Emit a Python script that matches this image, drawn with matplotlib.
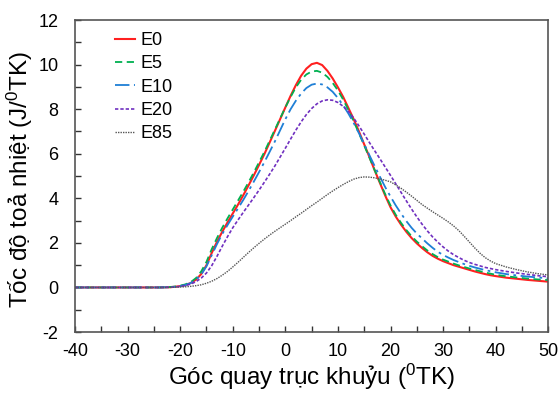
import matplotlib
matplotlib.use("Agg")
import matplotlib.pyplot as plt
from matplotlib.ticker import MultipleLocator

plt.rcParams['font.family'] = ['Liberation Sans', 'DejaVu Sans']
plt.rcParams['mathtext.default'] = 'regular'
plt.rcParams['axes.unicode_minus'] = False

# crank angle (deg) and heat release rate (J/deg) for each fuel blend
angle = [-40, -30, -24] + list(range(-22, 41)) + [42, 44, 46, 48, 50]

e0 = [0, 0, 0,
      0.01, 0.03, 0.06, 0.11, 0.2, 0.35, 0.6, 1.0, 1.55, 2.05, 2.5, 2.92, 3.32, 3.72, 4.14, 4.58, 5.03, 5.5, 5.98, 6.5, 7.02, 7.55,
      8.08, 8.6, 9.08, 9.5, 9.82, 10.02, 10.08, 9.98, 9.72, 9.38,
      8.98, 8.55, 8.05, 7.55, 7.0, 6.42, 5.85, 5.25, 4.68, 4.12,
      3.6, 3.18, 2.82, 2.5, 2.22, 1.98, 1.77, 1.58, 1.42, 1.29,
      1.18, 1.09, 1.0, 0.93, 0.86, 0.79, 0.72, 0.66, 0.6, 0.55, 0.51,
      0.44, 0.39, 0.34, 0.3, 0.26]
e5 = [0, 0, 0,
      0.02, 0.04, 0.08, 0.14, 0.24, 0.42, 0.72, 1.15, 1.72, 2.22, 2.68, 3.1, 3.5, 3.9, 4.3, 4.72, 5.16, 5.62, 6.08, 6.58, 7.08, 7.58,
      8.08, 8.55, 8.98, 9.32, 9.56, 9.69, 9.72, 9.64, 9.45, 9.18,
      8.84, 8.43, 7.96, 7.45, 6.92, 6.37, 5.82, 5.26, 4.72, 4.18,
      3.68, 3.26, 2.9, 2.58, 2.3, 2.06, 1.85, 1.66, 1.5, 1.36,
      1.25, 1.16, 1.07, 0.99, 0.92, 0.85, 0.79, 0.73, 0.67, 0.62, 0.57,
      0.5, 0.45, 0.4, 0.36, 0.33]
e10 = [0, 0, 0,
       0.01, 0.03, 0.06, 0.11, 0.2, 0.35, 0.58, 0.95, 1.45, 1.95, 2.4, 2.8, 3.18, 3.55, 3.93, 4.33, 4.75, 5.18, 5.62, 6.08, 6.55, 7.05,
       7.55, 8.0, 8.38, 8.7, 8.95, 9.1, 9.15, 9.11, 8.98, 8.78,
       8.5, 8.17, 7.8, 7.38, 6.92, 6.43, 5.93, 5.44, 4.96, 4.5,
       4.08, 3.68, 3.32, 2.98, 2.68, 2.42, 2.2, 1.98, 1.78, 1.6,
       1.46, 1.34, 1.23, 1.14, 1.05, 0.97, 0.9, 0.84, 0.78, 0.73, 0.68,
       0.6, 0.54, 0.49, 0.45, 0.41]
e20 = [0, 0, 0,
       0.01, 0.02, 0.05, 0.09, 0.15, 0.26, 0.42, 0.65, 0.98, 1.4, 1.85, 2.28, 2.68, 3.03, 3.37, 3.7, 4.03, 4.37, 4.72, 5.08, 5.45, 5.85,
       6.25, 6.66, 7.06, 7.43, 7.76, 8.03, 8.24, 8.37, 8.42, 8.4,
       8.3, 8.13, 7.9, 7.6, 7.25, 6.88, 6.5, 6.13, 5.77, 5.4,
       5.03, 4.65, 4.27, 3.89, 3.52, 3.17, 2.84, 2.54, 2.27, 2.03,
       1.82, 1.63, 1.47, 1.34, 1.22, 1.12, 1.04, 0.97, 0.9, 0.85, 0.8,
       0.72, 0.65, 0.59, 0.53, 0.48]
e85 = [0, 0, 0,
       0.0, 0.01, 0.02, 0.03, 0.05, 0.08, 0.12, 0.19, 0.28, 0.4, 0.55, 0.72, 0.92, 1.13, 1.35, 1.57, 1.78, 1.98, 2.17, 2.35, 2.52, 2.68,
       2.84, 3.0, 3.17, 3.33, 3.5, 3.67, 3.83, 4.0, 4.17, 4.33,
       4.48, 4.62, 4.75, 4.86, 4.93, 4.96, 4.95, 4.92, 4.87, 4.81,
       4.74, 4.6, 4.45, 4.28, 4.1, 3.91, 3.72, 3.56, 3.4, 3.25,
       3.1, 2.94, 2.76, 2.55, 2.3, 2.04, 1.78, 1.54, 1.34, 1.19, 1.07,
       0.92, 0.8, 0.7, 0.62, 0.56]

labels = ['E0', 'E5', 'E10', 'E20', 'E85']

fig = plt.figure(figsize=(5.6, 4.01), dpi=100)
ax = fig.add_axes([0.134, 0.172, 0.845, 0.778])

ax.plot(angle, e0, color='#ff2020', lw=1.5, ls='-', label=labels[0])
ax.plot(angle, e5, color='#00b050', lw=1.3, ls=(0, (4, 2.5)), label=labels[1])
ax.plot(angle, e10, color='#1f7fd6', lw=1.3, ls=(0, (8, 2.5, 1.5, 2.5)), label=labels[2])
ax.plot(angle, e20, color='#7030c0', lw=1.2, ls=(0, (2, 1.2)), label=labels[3])
ax.plot(angle, e85, color='#555555', lw=1.0, ls=(0, (1, 0.8)), label=labels[4])

ax.set_xlim(-40, 50)
ax.set_ylim(-2, 12)
ax.xaxis.set_major_locator(MultipleLocator(10))
ax.xaxis.set_minor_locator(MultipleLocator(5))
ax.yaxis.set_major_locator(MultipleLocator(2))
ax.yaxis.set_minor_locator(MultipleLocator(1))
ax.tick_params(which='both', direction='in', length=4, width=1, labelsize=13,
               top=False, right=False, color='#333333')
ax.tick_params(axis='x', pad=8)
ax.tick_params(axis='y', pad=12)
for s in ax.spines.values():
    s.set_color('#555555')
    s.set_linewidth(1.2)

ax.set_xlabel('Góc quay trục khuỷu ($^0$TK)', fontsize=17.5, labelpad=1)
ax.set_ylabel('Tốc độ toả nhiệt (J/$^0$TK)', fontsize=17.5)
ax.yaxis.set_label_coords(-0.085, 0.49)

ax.legend(loc='upper left', bbox_to_anchor=(0.07, 0.985), frameon=False, fontsize=13,
          handlelength=1.1, handletextpad=0.3, labelspacing=0.35, borderaxespad=0)

fig.savefig('out.png', dpi=100)
